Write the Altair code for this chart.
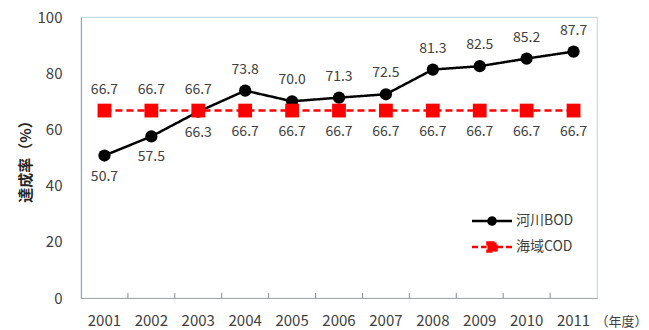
import altair as alt
import pandas as pd

years = ["2001", "2002", "2003", "2004", "2005", "2006", "2007", "2008", "2009", "2010", "2011"]
bod = [50.7, 57.5, 66.3, 73.8, 70.0, 71.3, 72.5, 81.3, 82.5, 85.2, 87.7]
cod = [66.7, 66.7, 66.7, 66.7, 66.7, 66.7, 66.7, 66.7, 66.7, 66.7, 66.7]
series_names = ["河川BOD", "海域COD"]
series_colors = ["#000000", "#ff0000"]
y_ticks = [0, 20, 40, 60, 80, 100]

FONT = "Noto Sans CJK JP"
TXT = "#404040"

rows = []
for i, y in enumerate(years):
    rows.append({"year": y, "series": series_names[0], "value": bod[i],
                 "pos": "above" if bod[i] >= cod[i] else "below"})
    rows.append({"year": y, "series": series_names[1], "value": cod[i],
                 "pos": "above" if cod[i] >= bod[i] else "below"})
df = pd.DataFrame(rows)
df["dash"] = df["series"]

W, H = 516, 281

xscale = alt.Scale(type="band", paddingInner=0, paddingOuter=0)
xaxis = alt.Axis(title="（年度）", labelAngle=0, ticks=False, tickSize=0, bandPosition=0.5,
                 labelPadding=22, labelBaseline="middle",
                 labelFont=FONT, labelFontSize=15, labelColor=TXT,
                 domainColor="#a6a6a6", domainWidth=1.2,
                 titleFont=FONT, titleFontSize=13, titleColor=TXT,
                 titleFontWeight="normal", titleX=W - 2, titleY=23,
                 titleAlign="left", titleBaseline="middle", titleAnchor="start")
xenc = alt.X("year:O", sort=years, bandPosition=0.5, scale=xscale, axis=xaxis)
yenc = alt.Y("value:Q", scale=alt.Scale(domain=[0, 100], nice=False),
             axis=alt.Axis(title="達成率（%）", values=y_ticks, grid=False, ticks=False, tickSize=0,
                           labelPadding=19, labelFont=FONT, labelFontSize=15, labelColor=TXT,
                           domainColor="#a6a6a6", domainWidth=1.2,
                           titleFont=FONT, titleFontSize=15, titleColor="#262626",
                           titleFontWeight="bold", titleX=-56, titleY=H / 2,
                           titleAngle=-90, titleAlign="center", titleBaseline="middle"))

cscale = alt.Scale(domain=series_names, range=series_colors)

# legend (line + marker symbols)
bod_sym = "M-4,0H4M-0.7,0A0.7,0.7 0 1,0 0.7,0A0.7,0.7 0 1,0 -0.7,0Z"
cod_sym = "M-4,0H-2.8M-2.2,0H-1.1M1.1,0H2.2M2.8,0H4M-0.9,-0.9H0.9V0.9H-0.9Z"
leg = alt.Legend(title=None, orient="none", legendX=404, legendY=197,
                 symbolSize=100, symbolStrokeWidth=2.5, symbolOpacity=1,
                 labelFont=FONT, labelFontSize=14, labelColor=TXT, labelOffset=17,
                 rowPadding=7, padding=0)

base = alt.Chart(df)

lines = base.mark_line(strokeWidth=2.5).encode(
    x=xenc, y=yenc,
    color=alt.Color("series:N", scale=cscale, legend=leg),
    strokeDash=alt.StrokeDash("dash:N", scale=alt.Scale(domain=series_names, range=[[1, 0], [7, 4]]), legend=None),
)

pts_bod = base.transform_filter(alt.datum.series == series_names[0]).mark_point(
    filled=True, shape="circle", size=150, opacity=1, color=series_colors[0]
).encode(x=xenc, y=yenc)

pts_cod = base.transform_filter(alt.datum.series == series_names[1]).mark_point(
    filled=True, shape="square", size=190, opacity=1, color=series_colors[1]
).encode(x=xenc, y=yenc)

lab_above = base.transform_filter(alt.datum.pos == "above").mark_text(
    dy=-21, font=FONT, fontSize=14, color=TXT
).encode(x=xenc, y=yenc, text=alt.Text("value:Q", format=".1f"))

lab_below = base.transform_filter(alt.datum.pos == "below").mark_text(
    dy=21, font=FONT, fontSize=14, color=TXT
).encode(x=xenc, y=yenc, text=alt.Text("value:Q", format=".1f"))

# inward tick marks at band boundaries on the x axis
tick_df = pd.DataFrame({"year": years[1:]})
inticks = alt.Chart(tick_df).mark_rule(color="#8c8c8c", strokeWidth=1).encode(
    x=alt.X("year:O", sort=years, bandPosition=0, scale=xscale, axis=xaxis),
    y=alt.YDatum(0), y2=alt.Y2Datum(1.8),
)

legend_layer = base.mark_point(filled=True, size=0, strokeWidth=0).encode(
    x=xenc, y=yenc,
    color=alt.Color("series:N", scale=cscale, legend=leg),
    stroke=alt.Stroke("series:N", scale=cscale, legend=leg),
    shape=alt.Shape("series:N", scale=alt.Scale(domain=series_names, range=[bod_sym, cod_sym]), legend=leg),
)

chart = alt.layer(lines, pts_bod, pts_cod, lab_above, lab_below, legend_layer, inticks).properties(
    width=W, height=H,
    autosize=alt.AutoSizeParams(type="none"),
    padding={"left": 81, "top": 17, "right": 649 - 81 - W, "bottom": 330 - 17 - H},
    background="white",
).configure_view(stroke="#c5dbe6", strokeWidth=1.2)

chart.save("out.html", embed_options={"renderer": "svg", "actions": False})
